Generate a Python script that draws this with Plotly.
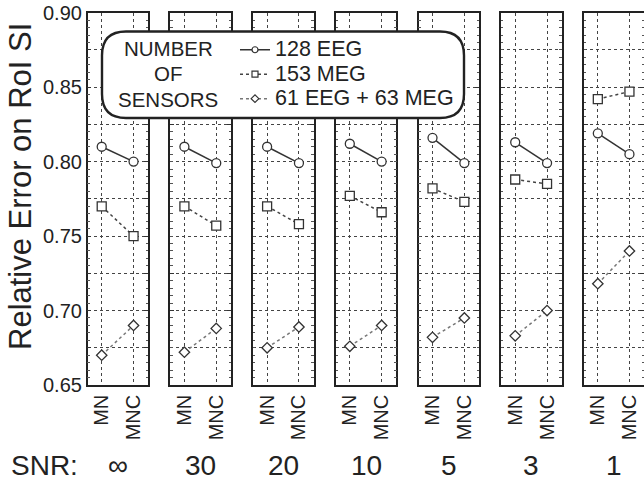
import plotly.graph_objects as go

snr_labels = ["\u221e", "30", "20", "10", "5", "3", "1"]
methods = ["MN", "MNC"]

eeg_128 = [[0.810, 0.800], [0.810, 0.799], [0.810, 0.799], [0.812, 0.800],
           [0.816, 0.799], [0.813, 0.799], [0.819, 0.805]]
meg_153 = [[0.770, 0.750], [0.770, 0.757], [0.770, 0.758], [0.777, 0.766],
           [0.782, 0.773], [0.788, 0.785], [0.842, 0.847]]
eeg_meg = [[0.670, 0.690], [0.672, 0.688], [0.675, 0.689], [0.676, 0.690],
           [0.682, 0.695], [0.683, 0.700], [0.718, 0.740]]

series = [
    ("128 EEG", eeg_128, "circle", 9, "solid", "#333333"),
    ("153 MEG", meg_153, "square", 9, "dot", "#444444"),
    ("61 EEG + 63 MEG", eeg_meg, "diamond", 8, "dot", "#777777"),
]

FONT = "Liberation Sans, Arial, sans-serif"
W, H = 644, 480
fig = go.Figure()

n = len(snr_labels)
left0, step, pw = 87.7, 82.7, 60.5
top_px, bot_px = 12.7, 385.0

yticks = [0.65 + 0.025 * i for i in range(11)]
yticktext = ["%.2f" % v if i % 2 == 0 else "" for i, v in enumerate(yticks)]

for i in range(n):
    xa = "x" if i == 0 else "x%d" % (i + 1)
    ya = "y" if i == 0 else "y%d" % (i + 1)
    for name, data, sym, msz, dash, col in series:
        fig.add_trace(go.Scatter(
            x=[0, 1], y=data[i], xaxis=xa, yaxis=ya,
            mode="lines+markers", name=name, legendgroup=name,
            showlegend=False,
            line=dict(color=col, width=1.5, dash=dash),
            marker=dict(symbol=sym, size=msz, color="white",
                        line=dict(color="#333333", width=1.3)),
        ))
    l = (left0 + i * step) / W
    r = min((left0 + i * step + pw) / W, 1.0)
    xkey = "xaxis" if i == 0 else "xaxis%d" % (i + 1)
    ykey = "yaxis" if i == 0 else "yaxis%d" % (i + 1)
    fig.layout[xkey] = dict(
        domain=[l, r], range=[-0.44, 1.46], anchor=ya,
        tickvals=[0, 1], ticktext=methods, tickangle=-90,
        tickfont=dict(family=FONT, size=20, color="#222"),
        showgrid=True, gridcolor="#444444", griddash="dot", gridwidth=1,
        showline=True, linecolor="#222222", linewidth=1.5, mirror=True,
        ticks="", zeroline=False, fixedrange=True, automargin=False,
    )
    fig.layout[ykey] = dict(
        domain=[1 - bot_px / H, 1 - top_px / H], range=[0.65, 0.90], anchor=xa,
        tickvals=yticks, ticktext=yticktext if i == 0 else [""] * len(yticks),
        showticklabels=(i == 0),
        tickfont=dict(family=FONT, size=20, color="#222"),
        showgrid=True, gridcolor="#444444", griddash="dot", gridwidth=1,
        showline=True, linecolor="#222222", linewidth=1.5, mirror="ticks",
        ticks="inside", ticklen=4, tickcolor="#333333",
        minor=dict(dtick=0.005, ticks="inside", ticklen=2.5, tickcolor="#555555", showgrid=False),
        zeroline=False, fixedrange=True, automargin=False,
    )
    fig.add_annotation(
        text=snr_labels[i], xref="paper", yref="paper",
        x=(left0 + i * step + pw / 2) / W, y=1 - 465 / H,
        showarrow=False, xanchor="center", yanchor="middle",
        font=dict(family=FONT, size=28, color="#222"),
    )

# legend-only entries (no data coordinates)
for name, data, sym, msz, dash, col in series:
    fig.add_trace(go.Scatter(
        x=[None], y=[None], mode="lines+markers",
        name='<span style="font-size:21.5px">%s</span>' % name,
        showlegend=True,
        line=dict(color=col, width=1.5, dash=dash),
        marker=dict(symbol=sym, size=6, color="white",
                    line=dict(color="#333333", width=1.2)),
    ))

fig.add_annotation(text="SNR:", xref="paper", yref="paper", x=44 / W, y=1 - 465 / H,
                   showarrow=False, xanchor="center", yanchor="middle",
                   font=dict(family=FONT, size=28, color="#222"))
fig.add_annotation(text="Relative Error on RoI SI", xref="paper", yref="paper",
                   x=20 / W, y=1 - 187 / H, textangle=-90, showarrow=False,
                   xanchor="center", yanchor="middle",
                   font=dict(family=FONT, size=31, color="#222"))

# rounded legend box
bx0, bx1, by0, by1 = 102 / W, 464 / W, 1 - 118 / H, 1 - 31.5 / H
rx, ry = 24 / W, 24 / H
path = (f"M {bx0+rx},{by1} L {bx1-rx},{by1} Q {bx1},{by1} {bx1},{by1-ry} "
        f"L {bx1},{by0+ry} Q {bx1},{by0} {bx1-rx},{by0} L {bx0+rx},{by0} "
        f"Q {bx0},{by0} {bx0},{by0+ry} L {bx0},{by1-ry} Q {bx0},{by1} {bx0+rx},{by1} Z")
fig.add_shape(type="path", path=path, xref="paper", yref="paper",
              line=dict(color="#222222", width=2.4), fillcolor="white", layer="above")

for txt, ypx in [("NUMBER", 49), ("OF", 73), ("SENSORS", 99)]:
    fig.add_annotation(text=txt, xref="paper", yref="paper", x=168 / W, y=1 - ypx / H,
                       showarrow=False, xanchor="center", yanchor="middle",
                       font=dict(family=FONT, size=20.5, color="#222"))

fig.update_layout(
    width=W, height=H, margin=dict(l=0, r=0, t=0, b=0, autoexpand=False),
    paper_bgcolor="white", plot_bgcolor="white",
    showlegend=True,
    legend=dict(x=235 / W, y=1 - 32.5 / H, xanchor="left", yanchor="top",
                bgcolor="rgba(0,0,0,0)", borderwidth=0,
                font=dict(family=FONT, size=16.5, color="#222"),
                itemwidth=30, tracegroupgap=0),
)

fig.write_html("out.html", config={"displayModeBar": False},
               post_script="document.body.style.margin='0';document.body.style.overflow='hidden';")
